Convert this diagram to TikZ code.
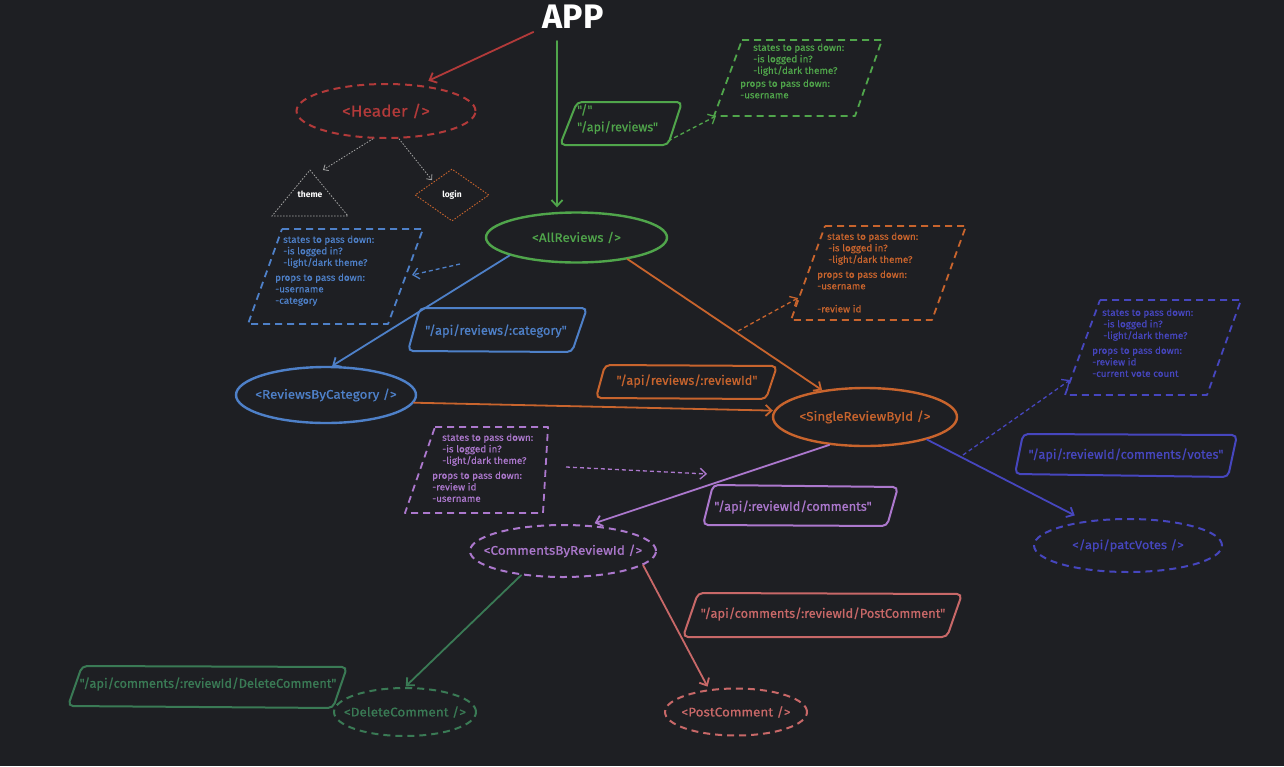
\documentclass[tikz,border=0pt]{standalone}
\usepackage{fontspec}
\setmainfont{Fira Sans}
\newfontfamily\notefont{Fira Sans}[FakeStretch=1.05, FakeBold=0.5]
\newfontfamily\compfont{Fira Sans}[FakeStretch=1.08, FakeBold=0.6]
\newfontfamily\lblfont{Fira Sans}[FakeBold=0.7]
\usetikzlibrary{arrows.meta,shapes.geometric}
\definecolor{bg}{RGB}{30,31,35}
\definecolor{cred}{RGB}{178,58,58}
\definecolor{cgreen}{RGB}{80,165,75}
\definecolor{cblue}{RGB}{78,128,200}
\definecolor{corange}{RGB}{200,100,45}
\definecolor{cpurple}{RGB}{172,120,205}
\definecolor{cindigo}{RGB}{70,70,190}
\definecolor{cdgreen}{RGB}{58,122,85}
\definecolor{csalmon}{RGB}{200,104,104}
\definecolor{cgray}{RGB}{165,165,165}
\tikzset{
  tipb/.style={-{Straight Barb[length=6pt,width=11pt]}},
  mainarrow/.style={line width=1.8pt, tipb, line cap=round},
  dasharrow/.style={line width=1.3pt, dash pattern=on 4pt off 3pt, tipb},
  dotarrow/.style={line width=0.8pt, dash pattern=on 1.5pt off 1.5pt, -{Straight Barb[length=4pt,width=7pt]}},
  comp/.style={ellipse, draw, inner xsep=-40pt, inner ysep=0pt, line width=2.4pt, font=\compfont\fontsize{12.5}{14}\selectfont},
  dcomp/.style={ellipse, draw, inner xsep=-40pt, inner ysep=0pt, line width=2pt, dash pattern=on 7pt off 5pt, font=\compfont\fontsize{12.5}{14}\selectfont},
  notebox/.style={line width=1.8pt, dash pattern=on 7pt off 5pt, line join=round},
  notetext/.style={anchor=north west, inner sep=0pt, align=left, font=\notefont\fontsize{9.4}{11.5}\selectfont},
  lblbox/.style={line width=2pt, rounded corners=5pt},
  lbltext/.style={inner sep=0pt, font=\lblfont\fontsize{12.8}{17}\selectfont},
}
\begin{document}
\begin{tikzpicture}[x=1pt,y=-1pt]
\fill[bg] (0,0) rectangle (1284,766);
\useasboundingbox (0,0) rectangle (1284,766);

% APP
\node[text=white, font=\bfseries\fontsize{34}{40}\selectfont, inner sep=2pt] (app) at (573,17) {APP};

% Header
\node[dcomp, draw=cred, text=cred, minimum width=179pt, minimum height=54pt, font=\compfont\fontsize{16}{19}\selectfont] (header) at (386,111) {<Header />};
\draw[mainarrow, cred, shorten >=10pt] ([shift={(-7pt,-1pt)}]app.south west) -- (header.38);

% theme / login
\draw[cgray, line width=0.8pt, dash pattern=on 1.5pt off 1.5pt] (310,170) -- (348,216) -- (272,216) -- cycle;
\node[text=white, font=\bfseries\fontsize{8.5}{10}\selectfont] (theme) at (310,194) {theme};
\coordinate (themetop) at (323,170);
\node[diamond, draw=corange, line width=0.9pt, dash pattern=on 1.5pt off 1.5pt, minimum width=74pt, minimum height=52pt, inner sep=0pt, text=white, font=\bfseries\fontsize{8.5}{10}\selectfont] (login) at (452,195) {login};
\draw[dotarrow, cgray] (header.245) -- (themetop);
\draw[dotarrow, cgray, shorten >=2pt] (header.295) -- (login.north west);

% AllReviews
\node[comp, draw=cgreen, text=cgreen, minimum width=181pt, minimum height=50pt] (allrev) at (576.5,237.5) {<AllReviews />};
\draw[mainarrow, cgreen, shorten <=10pt, shorten >=4pt] ([xshift=-16pt]app.south) -- ([xshift=-19.5pt]allrev.north);

% green label box and note
\draw[lblbox, cgreen] (560,145) -- (577,102) -- (682,102) -- (668,145) -- cycle;
\node[lbltext, text=cgreen, anchor=north west, align=left, font=\lblfont\fontsize{12.5}{17}\selectfont] (gbox) at (577,104) {"/"\\"/api/reviews"};
\coordinate (gboxr) at (668,141);
\coordinate (gnotel) at (716,116);
\draw[dasharrow, cgreen] (gboxr) -- (gnotel);
\draw[notebox, cgreen] (742,40) -- (882,40) -- (855,116) -- (714,116) -- cycle;
\node[notetext, text=cgreen] (gnote1) at (753,43.5) {states to pass down:\\-is logged in?\\-light/dark theme?};
\node[notetext, text=cgreen] (gnote2) at (740,79.5) {props to pass down:\\-username};

% blue note, box, ReviewsByCategory
\draw[notebox, cblue] (282,229) -- (423,229) -- (388,324) -- (248,324) -- cycle;
\node[notetext, text=cblue] (bnote1) at (283,235.5) {states to pass down:\\-is logged in?\\-light/dark theme?};
\node[notetext, text=cblue] (bnote2) at (275,273.5) {props to pass down:\\-username\\-category};
\coordinate (bfrom) at (460,264);
\coordinate (bnoter) at (412,275);
\draw[dasharrow, cblue] (bfrom) -- (bnoter);
\draw[lblbox, cblue] (408,351) -- (420,308) -- (587,308) -- (572,352) -- cycle;
\node[lbltext, text=cblue] (bbox) at (496,331) {"/api/reviews/:category"};
\node[comp, draw=cblue, text=cblue, minimum width=180pt, minimum height=56pt] (revcat) at (326,395) {<ReviewsByCategory />};
\draw[mainarrow, cblue] (allrev.195) -- (revcat.78);

% SingleReviewById
\node[comp, draw=corange, text=corange, minimum width=184pt, minimum height=58pt] (single) at (865,417) {<SingleReviewById />};
\draw[mainarrow, corange] (allrev.-23) -- (single.148);
\draw[mainarrow, corange, shorten >=1pt] (revcat.-5) -- (single.176);
\draw[notebox, corange] (825,226) -- (966,226) -- (932,320) -- (791,320) -- cycle;
\node[notetext, text=corange] (onote1) at (827,232.5) {states to pass down:\\\hspace{1pt}-is logged in?\\\hspace{1pt}-light/dark theme?};
\node[notetext, text=corange] (onote2) at (817,270.5) {props to pass down:\\-username\\[11.5pt]-review id};
\coordinate (ofrom) at (738,331);
\coordinate (onotel) at (798,298);
\draw[dasharrow, corange] (ofrom) -- (onotel);
\draw[lblbox, corange] (596,398) -- (605,365) -- (777,366) -- (766,399) -- cycle;
\node[lbltext, text=corange] (obox) at (687,381) {"/api/reviews/:reviewId"};

% purple: note, box, CommentsByReviewId
\draw[notebox, cpurple] (435,427) -- (548,427) -- (543,513) -- (405,513) -- cycle;
\node[notetext, text=cpurple] (pnote1) at (442,433.5) {states to pass down:\\-is logged in?\\-light/dark theme?};
\node[notetext, text=cpurple] (pnote2) at (432,471.5) {props to pass down:\\-review id\\-username};
\coordinate (pnoter) at (566,467);
\coordinate (pto) at (707,474);
\draw[dasharrow, cpurple] (pnoter) -- (pto);
\draw[lblbox, cpurple] (703,525) -- (713,485) -- (898,487) -- (887,526) -- cycle;
\node[lbltext, text=cpurple] (pbox) at (793,507) {"/api/:reviewId/comments"};
\node[dcomp, draw=cpurple, text=cpurple, minimum width=186pt, minimum height=52pt] (comments) at (563,551) {<CommentsByReviewId />};
\draw[mainarrow, cpurple, shorten >=6pt] (single.218) -- (comments.45);

% indigo: note, box, patcVotes
\draw[notebox, cindigo] (1100,300) -- (1241,300) -- (1207,395) -- (1065,395) -- cycle;
\node[notetext, text=cindigo] (inote1) at (1102,308.5) {states to pass down:\\\hspace{1pt}-is logged in?\\\hspace{1pt}-light/dark theme?};
\node[notetext, text=cindigo] (inote2) at (1092,346.5) {props to pass down:\\-review id\\-current vote count};
\coordinate (ifrom) at (963,455);
\coordinate (inotel) at (1070,380);
\draw[dasharrow, cindigo] (ifrom) -- (inotel);
\draw[lblbox, cindigo] (1015,474) -- (1023,434) -- (1237,435) -- (1228,477) -- cycle;
\node[lbltext, text=cindigo] (ibox) at (1126,455) {"/api/:reviewId/comments/votes"};
\node[dcomp, draw=cindigo, text=cindigo, minimum width=188pt, minimum height=53pt, font=\compfont\fontsize{12}{14}\selectfont] (patc) at (1128,545.5) {</api/patcVotes />};
\draw[mainarrow, cindigo, shorten >=12pt] (single.-20) -- (patc.150);

% DeleteComment
\draw[lblbox, cdgreen] (68,706) -- (82,666) -- (347,667) -- (333,708) -- cycle;
\node[lbltext, text=cdgreen] (dbox) at (208,684) {"/api/comments/:reviewId/DeleteComment"};
\node[dcomp, draw=cdgreen, text=cdgreen, minimum width=142pt, minimum height=48pt] (delete) at (405,712) {<DeleteComment />};
\draw[mainarrow, cdgreen, shorten >=1pt] (comments.210) -- (delete.north);

% PostComment
\draw[lblbox, csalmon] (683,637) -- (698,593) -- (962,594) -- (947,637) -- cycle;
\node[lbltext, text=csalmon] (sbox) at (823,614) {"/api/comments/:reviewId/PostComment"};
\node[dcomp, draw=csalmon, text=csalmon, minimum width=142pt, minimum height=47pt] (post) at (736,712) {<PostComment />};
\draw[mainarrow, csalmon, shorten >=3pt] (comments.-10) -- (post.140);
\end{tikzpicture}
\end{document}
